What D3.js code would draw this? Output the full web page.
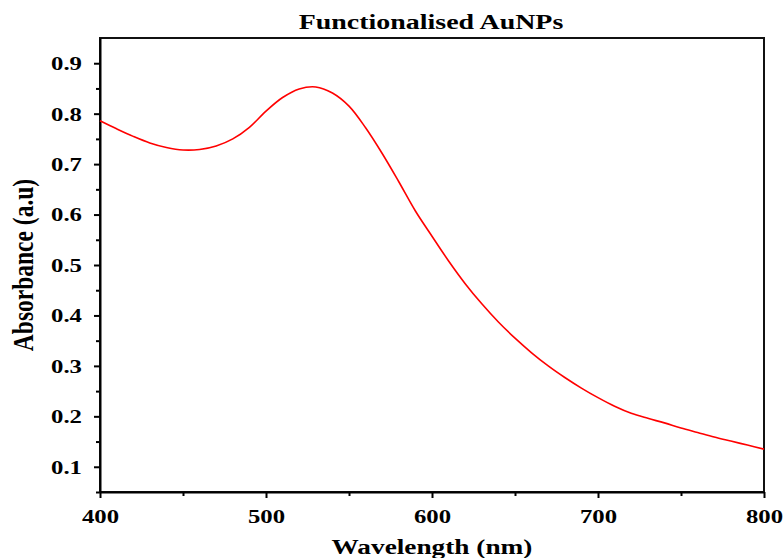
<!DOCTYPE html>
<html>

<head>
  <meta charset="utf-8">
  <title>Functionalised AuNPs</title>
  <script src="https://d3js.org/d3.v7.min.js"></script>
  <style>
    body { margin: 0; background: #fff; }
    text { font-family: "Liberation Serif", "Times New Roman", serif; font-weight: bold; fill: #000; }
  </style>
</head>

<body>
  <script>
    // UV-Vis spectrum values
    var wavelength = [400, 410, 420, 430, 440, 450, 460, 470, 480, 490,
      500, 510, 520, 530, 540, 550, 560, 570, 580, 590,
      600, 610, 620, 630, 640, 650, 660, 670, 680, 690,
      700, 710, 720, 730, 740, 750, 760, 770, 780, 790, 800];
    var absorbance = [0.786, 0.770, 0.755, 0.742, 0.733, 0.728, 0.729, 0.736, 0.750, 0.773,
      0.805, 0.832, 0.849, 0.853, 0.841, 0.815, 0.772, 0.721, 0.665, 0.607,
      0.557, 0.508, 0.463, 0.423, 0.387, 0.355, 0.326, 0.300, 0.277, 0.256,
      0.237, 0.220, 0.206, 0.196, 0.187, 0.177, 0.168, 0.159, 0.151, 0.143, 0.135];
    var xTicks = [400, 500, 600, 700, 800];
    var yTicks = [0.1, 0.2, 0.3, 0.4, 0.5, 0.6, 0.7, 0.8, 0.9];

    var width = 783;
    var height = 558;
    var margin = { top: 38, right: 19, bottom: 66, left: 100 };
    var stretch = 1.27; // the original picture is drawn wide

    var w = width - margin.left - margin.right;
    var h = height - margin.top - margin.bottom;

    var svg = d3.select("body").append("svg").attr("width", width).attr("height", height);
    var g = svg.append("g").attr("transform", "translate(" + margin.left + "," + margin.top + ")");

    var xScale = d3.scaleLinear().domain([400, 800]).range([0, w]);
    var yScale = d3.scaleLinear().domain([0.05, 0.95]).range([h, 0]);

    // minor ticks
    g.append("g")
      .attr("transform", "translate(0," + h + ")")
      .call(d3.axisBottom(xScale).tickValues([450, 550, 650, 750]).tickSize(4).tickFormat(""))
      .call(function (a) { a.select(".domain").remove(); a.selectAll("line").attr("stroke-width", 2); });
    g.append("g")
      .call(d3.axisLeft(yScale).tickValues([0.05, 0.15, 0.25, 0.35, 0.45, 0.55, 0.65, 0.75, 0.85]).tickSize(4).tickFormat(""))
      .call(function (a) { a.select(".domain").remove(); a.selectAll("line").attr("stroke-width", 2); });

    // frame (top and right)
    g.append("rect")
      .attr("width", w).attr("height", h)
      .attr("fill", "none").attr("stroke", "#111").attr("stroke-width", 2);

    // major axes
    var xAxis = g.append("g")
      .attr("transform", "translate(0," + h + ")")
      .call(d3.axisBottom(xScale).tickValues(xTicks).tickSize(6).tickSizeOuter(0).tickPadding(12).tickFormat(d3.format("d")));
    var yAxis = g.append("g")
      .call(d3.axisLeft(yScale).tickValues(yTicks).tickSize(6).tickSizeOuter(0).tickPadding(12).tickFormat(d3.format(".1f")));

    [xAxis, yAxis].forEach(function (a) {
      a.select(".domain").attr("stroke-width", 2);
      a.selectAll("line").attr("stroke-width", 2);
      a.selectAll("text").style("font-size", "19.5px");
    });

    xAxis.selectAll("text")
      .attr("y", null).attr("dy", null)
      .attr("transform", "translate(0,31) scale(" + stretch + ",1)");
    yAxis.selectAll("text")
      .attr("x", null).attr("dy", "0.33em")
      .attr("transform", "translate(-18,0) scale(" + stretch + ",1)");

    // spectrum line
    var line = d3.line()
      .x(function (d, i) { return xScale(wavelength[i]); })
      .y(function (d) { return yScale(d); })
      .curve(d3.curveCatmullRom);

    g.append("path")
      .datum(absorbance)
      .attr("fill", "none")
      .attr("stroke", "#ff0000")
      .attr("stroke-width", 1.6)
      .attr("d", line);

    // titles
    svg.append("text")
      .attr("transform", "translate(" + (margin.left + w / 2 - 1) + ",29) scale(" + stretch + ",1)")
      .attr("text-anchor", "middle")
      .style("font-size", "22px")
      .text("Functionalised AuNPs");

    svg.append("text")
      .attr("transform", "translate(" + (margin.left + w / 2) + ",554) scale(" + stretch + ",1)")
      .attr("text-anchor", "middle")
      .style("font-size", "21.5px")
      .text("Wavelength (nm)");

    svg.append("text")
      .attr("transform", "translate(33," + (margin.top + h / 2) + ") scale(" + stretch + ",1) rotate(-90)")
      .attr("text-anchor", "middle")
      .style("font-size", "23.5px")
      .text("Absorbance (a.u)");
  </script>
</body>

</html>
